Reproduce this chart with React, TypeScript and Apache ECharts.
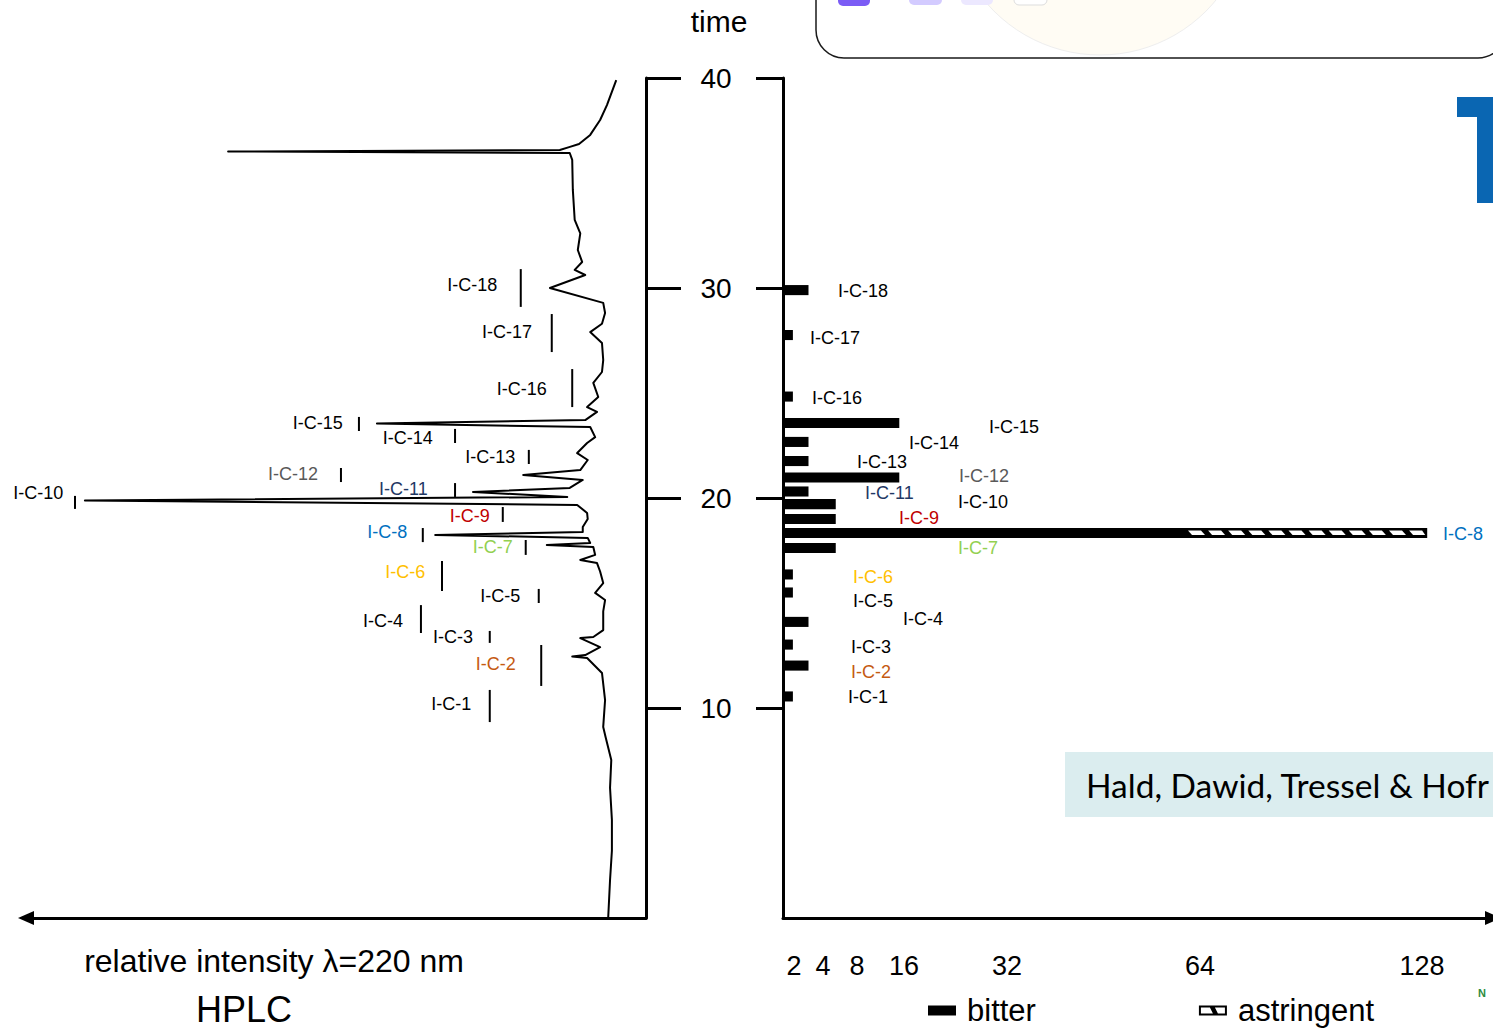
import React, { useEffect, useRef } from "react";
import * as echarts from "echarts";

const FONT = '"Liberation Sans", Arial, Helvetica, sans-serif';

// ---------- HPLC chromatogram (retention time in min, relative intensity at 220 nm) ----------
const chromTime = [
  0, 1.81, 3.2, 4.67, 6.2, 7.52, 8.6, 9.1, 10.38, 11.67,
  12.38, 12.45, 12.52, 12.9, 13.33, 13.38, 13.71, 14.6, 15.14, 15.48,
  15.95, 16.5, 16.9, 17.05, 17.29, 17.67, 17.76, 17.86, 18.1, 18.24,
  18.38, 18.62, 19.0, 19.29, 19.67, 19.88, 20.05, 20.29, 20.48, 20.86,
  21.1, 21.33, 21.81, 22.14, 22.62, 22.9, 23.38, 23.55, 23.71, 24.1,
  24.33, 24.81, 25.48, 26.0, 26.57, 27.38, 27.9, 28.3, 28.81, 29.29,
  30.0, 30.62, 30.86, 31.24, 31.81, 32.6, 33.24, 34.67, 36.1, 36.43,
  36.5, 36.57, 36.71, 36.86, 37.29, 38.0, 38.71, 39.9,
];
const chromIntensity = [
  6.1, 5.8, 5.5, 5.5, 5.8, 5.6, 6.5, 6.9, 6.6, 7.1,
  9.5, 11.9, 9.8, 7.4, 10.6, 8.5, 6.9, 6.9, 6.6, 8.2,
  6.9, 7.4, 7.9, 10.6, 8.2, 8.5, 16.0, 9.0, 9.4, 34.0,
  10.2, 10.2, 9.4, 9.5, 11.1, 90.5, 12.7, 27.9, 12.3, 10.2,
  19.8, 10.6, 9.4, 11.1, 9.5, 8.2, 9.0, 43.4, 9.8, 7.9,
  9.5, 7.7, 8.5, 7.1, 6.9, 7.1, 9.0, 7.1, 6.6, 6.9,
  15.5, 9.8, 11.5, 10.3, 11.0, 10.6, 11.5, 11.8, 11.9, 12.3,
  67.4, 13.9, 12.4, 10.8, 9.0, 7.4, 6.3, 4.8,
];

// ---------- fractions ----------
const compounds = [
  "I-C-1", "I-C-2", "I-C-3", "I-C-4", "I-C-5", "I-C-6", "I-C-7", "I-C-8", "I-C-9",
  "I-C-10", "I-C-11", "I-C-12", "I-C-13", "I-C-14", "I-C-15", "I-C-16", "I-C-17", "I-C-18",
];
const compoundColors = [
  "#000000", "#C55A11", "#000000", "#000000", "#000000", "#FFC000", "#92D050", "#0070C0", "#C00000",
  "#000000", "#1F3864", "#595959", "#000000", "#000000", "#000000", "#000000", "#000000", "#000000",
];
const retentionTime = [10.55, 12.02, 13.02, 14.1, 15.5, 16.36, 17.62, 18.33, 19.0, 19.71, 20.31, 20.98, 21.76, 22.67, 23.57, 24.83, 27.76, 29.9];
const bitterTD = [1.8, 3, 1.8, 3, 1.8, 1.8, 5.5, 62, 5.5, 5.5, 3, 15.2, 3, 3, 15.2, 1.8, 1.8, 3];
const astringentTD = [0, 0, 0, 0, 0, 0, 0, 129.5, 0, 0, 0, 0, 0, 0, 0, 0, 0, 0];

// ---------- axes ----------
const timeTicks = [10, 20, 30, 40];
const tdTicks = [2, 4, 8, 16, 32, 64, 128];
// the hand-drawn taste-dilution axis is not linear: slot of each tick along the axis
const tdTickSlots = [11, 40, 74, 121, 224, 417, 639];

// ---------- HPLC peak markers (intensity / time) ----------
const hplcMarkIntensity = [25.2, 16.9, 25.2, 36.3, 17.3, 32.9, 19.4, 36.0, 23.1, 92.1, 30.8, 49.2, 18.9, 30.8, 46.3, 11.9, 15.2, 20.2];
const hplcMarkFrom = [9.33, 11.05, 13.1, 13.57, 15.0, 15.57, 17.29, 17.9, 18.86, 19.48, 20.05, 20.76, 21.62, 22.62, 23.19, 24.33, 26.95, 29.1];
const hplcMarkTo = [10.86, 13.0, 13.67, 14.9, 15.67, 17.0, 18.0, 18.57, 19.57, 20.1, 20.71, 21.43, 22.29, 23.29, 23.86, 26.14, 28.76, 30.9];
const hplcLabelIntensity = [28.2, 21.0, 27.9, 39.2, 20.3, 35.6, 21.5, 38.5, 25.2, 94.0, 35.2, 52.9, 21.1, 34.4, 48.9, 16.0, 18.4, 24.0];
const hplcLabelTime = [10.19, 12.1, 13.38, 14.14, 15.33, 16.48, 17.67, 18.38, 19.14, 20.24, 20.43, 21.14, 21.95, 22.86, 23.57, 25.19, 27.9, 30.14];

// ---------- taste-profile labels (axis slot / time) ----------
const tasteLabelSlot = [65, 68, 68, 120, 70, 70, 175, 660, 116, 175, 82, 176, 74, 126, 206, 29, 27, 55];
const tasteLabelTime = [10.52, 11.71, 12.9, 14.24, 15.1, 16.24, 17.62, 18.29, 19.05, 19.81, 20.24, 21.05, 21.71, 22.62, 23.38, 24.76, 27.62, 29.86];

const BAR_SPAN = 0.48; // bar thickness in minutes

function tdToSlot(td: number): number {
  const xs = [0, ...tdTicks];
  const ps = [0, ...tdTickSlots];
  for (let i = 1; i < xs.length; i++) {
    if (td <= xs[i]) return ps[i - 1] + ((td - xs[i - 1]) * (ps[i] - ps[i - 1])) / (xs[i] - xs[i - 1]);
  }
  const n = xs.length - 1;
  return ps[n] + ((td - xs[n]) * (ps[n] - ps[n - 1])) / (xs[n] - xs[n - 1]);
}

function ts(text: string, size: number, opts: any = {}) {
  const align = opts.align || "center";
  return {
    text,
    fontSize: size,
    fontFamily: opts.family || FONT,
    fontWeight: opts.weight || "normal",
    fill: opts.color || "#000",
    align,
    verticalAlign: "middle",
    textAlign: align,
    textVerticalAlign: "middle",
  };
}

const ASTR_ICON = "path://M0,0H28V10H0Z M2,2V8H26V2Z M11,2H16L19,8H14Z";

export default function App() {
  const ref = useRef<HTMLDivElement>(null);

  useEffect(() => {
    if (!ref.current) return;
    const chart = echarts.init(ref.current, null, { renderer: "svg" });

    const hplcData = chromTime.map((t, i) => [chromIntensity[i], t]);
    const markData = compounds.map((_, i) => [
      hplcMarkIntensity[i], hplcMarkFrom[i], hplcMarkTo[i], hplcLabelIntensity[i], hplcLabelTime[i],
    ]);
    const bitterData = compounds.map((_, i) => [tdToSlot(bitterTD[i]), retentionTime[i]]);
    const astrData = compounds
      .map((_, i) => (astringentTD[i] > 0 ? [tdToSlot(astringentTD[i]), retentionTime[i]] : null))
      .filter((d) => d !== null);
    const labelData = compounds.map((_, i) => [tasteLabelSlot[i], tasteLabelTime[i]]);

    const axisBlack = { color: "#000", width: 3 };

    const option: any = {
      animation: false,
      backgroundColor: "#ffffff",
      textStyle: { fontFamily: FONT },
      grid: [
        { left: 26, top: 78, width: 620, height: 840 },
        { left: 783, top: 78, width: 710, height: 840 },
      ],
      xAxis: [
        {
          gridIndex: 0,
          type: "value",
          min: 0,
          max: 100,
          inverse: true,
          axisLine: { show: true, onZero: false, symbol: ["triangle", "none"], symbolSize: [14, 16], lineStyle: axisBlack },
          axisTick: { show: false },
          axisLabel: { show: false },
          splitLine: { show: false },
        },
        {
          gridIndex: 1,
          type: "value",
          min: 0,
          max: 710,
          axisLine: { show: true, onZero: false, symbol: ["none", "triangle"], symbolSize: [14, 16], lineStyle: axisBlack },
          axisTick: { show: false },
          axisLabel: {
            show: true,
            customValues: tdTickSlots,
            formatter: (v: number) => {
              const k = tdTickSlots.indexOf(v);
              return k >= 0 ? String(tdTicks[k]) : "";
            },
            fontSize: 27,
            color: "#000",
            fontFamily: FONT,
            margin: 48,
            verticalAlign: "middle",
          },
          splitLine: { show: false },
        },
      ],
      yAxis: [
        {
          gridIndex: 0,
          type: "value",
          min: 0,
          max: 40,
          interval: 10,
          position: "right",
          axisLine: { show: true, onZero: false, lineStyle: axisBlack },
          axisTick: { show: true, inside: false, length: 35, customValues: timeTicks, lineStyle: axisBlack },
          axisLabel: {
            show: true,
            customValues: timeTicks,
            fontSize: 28,
            color: "#000",
            fontFamily: FONT,
            margin: 70,
            align: "center",
          },
          splitLine: { show: false },
        },
        {
          gridIndex: 1,
          type: "value",
          min: 0,
          max: 40,
          interval: 10,
          position: "left",
          axisLine: { show: true, onZero: false, lineStyle: axisBlack },
          axisTick: { show: true, inside: false, length: 27, customValues: timeTicks, lineStyle: axisBlack },
          axisLabel: { show: false },
          splitLine: { show: false },
        },
      ],
      legend: {
        left: 928,
        top: 995,
        padding: 0,
        itemWidth: 28,
        itemHeight: 10,
        itemGap: 163,
        selectedMode: false,
        data: [
          { name: "bitter", icon: "rect" },
          { name: "astringent", icon: ASTR_ICON },
        ],
        textStyle: { fontSize: 31, lineHeight: 28, color: "#000", fontFamily: FONT, padding: [0, 0, 0, 6] },
      },
      series: [
        {
          type: "line",
          name: "HPLC",
          xAxisIndex: 0,
          yAxisIndex: 0,
          data: hplcData,
          symbol: "none",
          silent: true,
          lineStyle: { color: "#000", width: 2, join: "round" },
        },
        {
          type: "custom",
          name: "peaks",
          xAxisIndex: 0,
          yAxisIndex: 0,
          silent: true,
          data: markData,
          encode: { x: [0, 3], y: [1, 2, 4] },
          renderItem: (params: any, api: any) => {
            const i = params.dataIndex;
            const a = api.coord([api.value(0), api.value(1)]);
            const b = api.coord([api.value(0), api.value(2)]);
            const l = api.coord([api.value(3), api.value(4)]);
            return {
              type: "group",
              children: [
                { type: "line", shape: { x1: a[0], y1: a[1], x2: b[0], y2: b[1] }, style: { stroke: "#000", lineWidth: 2 } },
                { type: "text", x: l[0], y: l[1], style: ts(compounds[i], 18, { color: compoundColors[i], align: "right" }) },
              ],
            };
          },
        },
        {
          type: "custom",
          name: "astringent",
          xAxisIndex: 1,
          yAxisIndex: 1,
          silent: true,
          itemStyle: { color: "#000" },
          data: astrData,
          encode: { x: 0, y: 1 },
          renderItem: (params: any, api: any) => {
            const t = api.value(1);
            const s = api.coord([0, t]);
            const e = api.coord([api.value(0), t]);
            const h = api.size([0, BAR_SPAN])[1];
            const top = s[1] - h / 2;
            const children: any[] = [
              { type: "rect", shape: { x: s[0], y: top, width: e[0] - s[0], height: h }, style: { fill: "#000" } },
            ];
            for (let x = s[0] + 3; x + 5 < e[0] - 2; x += 20.1) {
              const x2 = Math.min(x + 17, e[0] - 2);
              const x1 = Math.min(x + 13, x2);
              children.push({
                type: "polygon",
                shape: { points: [[x, top + 2.5], [x1, top + 2.5], [x2, top + h - 3], [Math.min(x + 4, x2), top + h - 3]] },
                style: { fill: "#fff" },
              });
            }
            return { type: "group", children };
          },
        },
        {
          type: "custom",
          name: "bitter",
          xAxisIndex: 1,
          yAxisIndex: 1,
          silent: true,
          itemStyle: { color: "#000" },
          data: bitterData,
          encode: { x: 0, y: 1 },
          renderItem: (params: any, api: any) => {
            const t = api.value(1);
            const s = api.coord([0, t]);
            const e = api.coord([api.value(0), t]);
            const h = api.size([0, BAR_SPAN])[1];
            return { type: "rect", shape: { x: s[0], y: s[1] - h / 2, width: e[0] - s[0], height: h }, style: { fill: "#000" } };
          },
        },
        {
          type: "custom",
          name: "tasteLabels",
          xAxisIndex: 1,
          yAxisIndex: 1,
          silent: true,
          data: labelData,
          encode: { x: 0, y: 1 },
          renderItem: (params: any, api: any) => {
            const i = params.dataIndex;
            const p = api.coord([api.value(0), api.value(1)]);
            return { type: "text", x: p[0], y: p[1], style: ts(compounds[i], 18, { color: compoundColors[i], align: "left" }) };
          },
        },
      ],
      graphic: {
        elements: [
          { type: "rect", shape: { x: 816, y: -60, width: 690, height: 118, r: 28 }, style: { fill: "#fff", stroke: "#1a1a1a", lineWidth: 1.5 }, z: 1 },
          { type: "circle", shape: { cx: 1100, cy: -95, r: 150 }, style: { fill: "#fffcf4", stroke: "#eeeeee", lineWidth: 1 }, z: 2 },
          { type: "rect", shape: { x: 838, y: -10, width: 32, height: 16, r: 5 }, style: { fill: "#7B5CF5" }, z: 3 },
          { type: "rect", shape: { x: 909, y: -10, width: 33, height: 15, r: 5 }, style: { fill: "#D3CBFF" }, z: 3 },
          { type: "rect", shape: { x: 961, y: -10, width: 32, height: 15, r: 5 }, style: { fill: "#ECE8FF" }, z: 3 },
          { type: "rect", shape: { x: 1014, y: -10, width: 33, height: 15, r: 5 }, style: { fill: "#fff", stroke: "#dddddd", lineWidth: 1 }, z: 3 },
          {
            type: "polygon",
            shape: { points: [[1457, 97], [1493, 97], [1493, 203], [1477, 203], [1477, 117], [1457, 117]] },
            style: { fill: "#0A66B2" },
            z: 3,
          },
          { type: "rect", shape: { x: 1065, y: 752, width: 428, height: 65 }, style: { fill: "#DBEDEF" }, z: 1 },
          { type: "text", x: 1086, y: 785, style: ts("Hald, Dawid, Tressel & Hofr", 33.5, { family: "Lato, 'Open Sans', sans-serif", align: "left" }), z: 3 },
          { type: "text", x: 1478, y: 993, style: ts("N", 11, { color: "#2E8B3E", weight: "bold", align: "left" }), z: 3 },
          { type: "text", x: 719, y: 21, style: ts("time", 30), z: 3 },
          { type: "text", x: 274, y: 961, style: ts("relative intensity λ=220 nm", 32), z: 3 },
          { type: "text", x: 244, y: 1009, style: ts("HPLC", 36), z: 3 },
        ],
      },
    };

    chart.setOption(option);
    return () => chart.dispose();
  }, []);

  return <div ref={ref} style={{ position: "absolute", left: 0, top: 0, width: 1493, height: 1029 }} />;
}
